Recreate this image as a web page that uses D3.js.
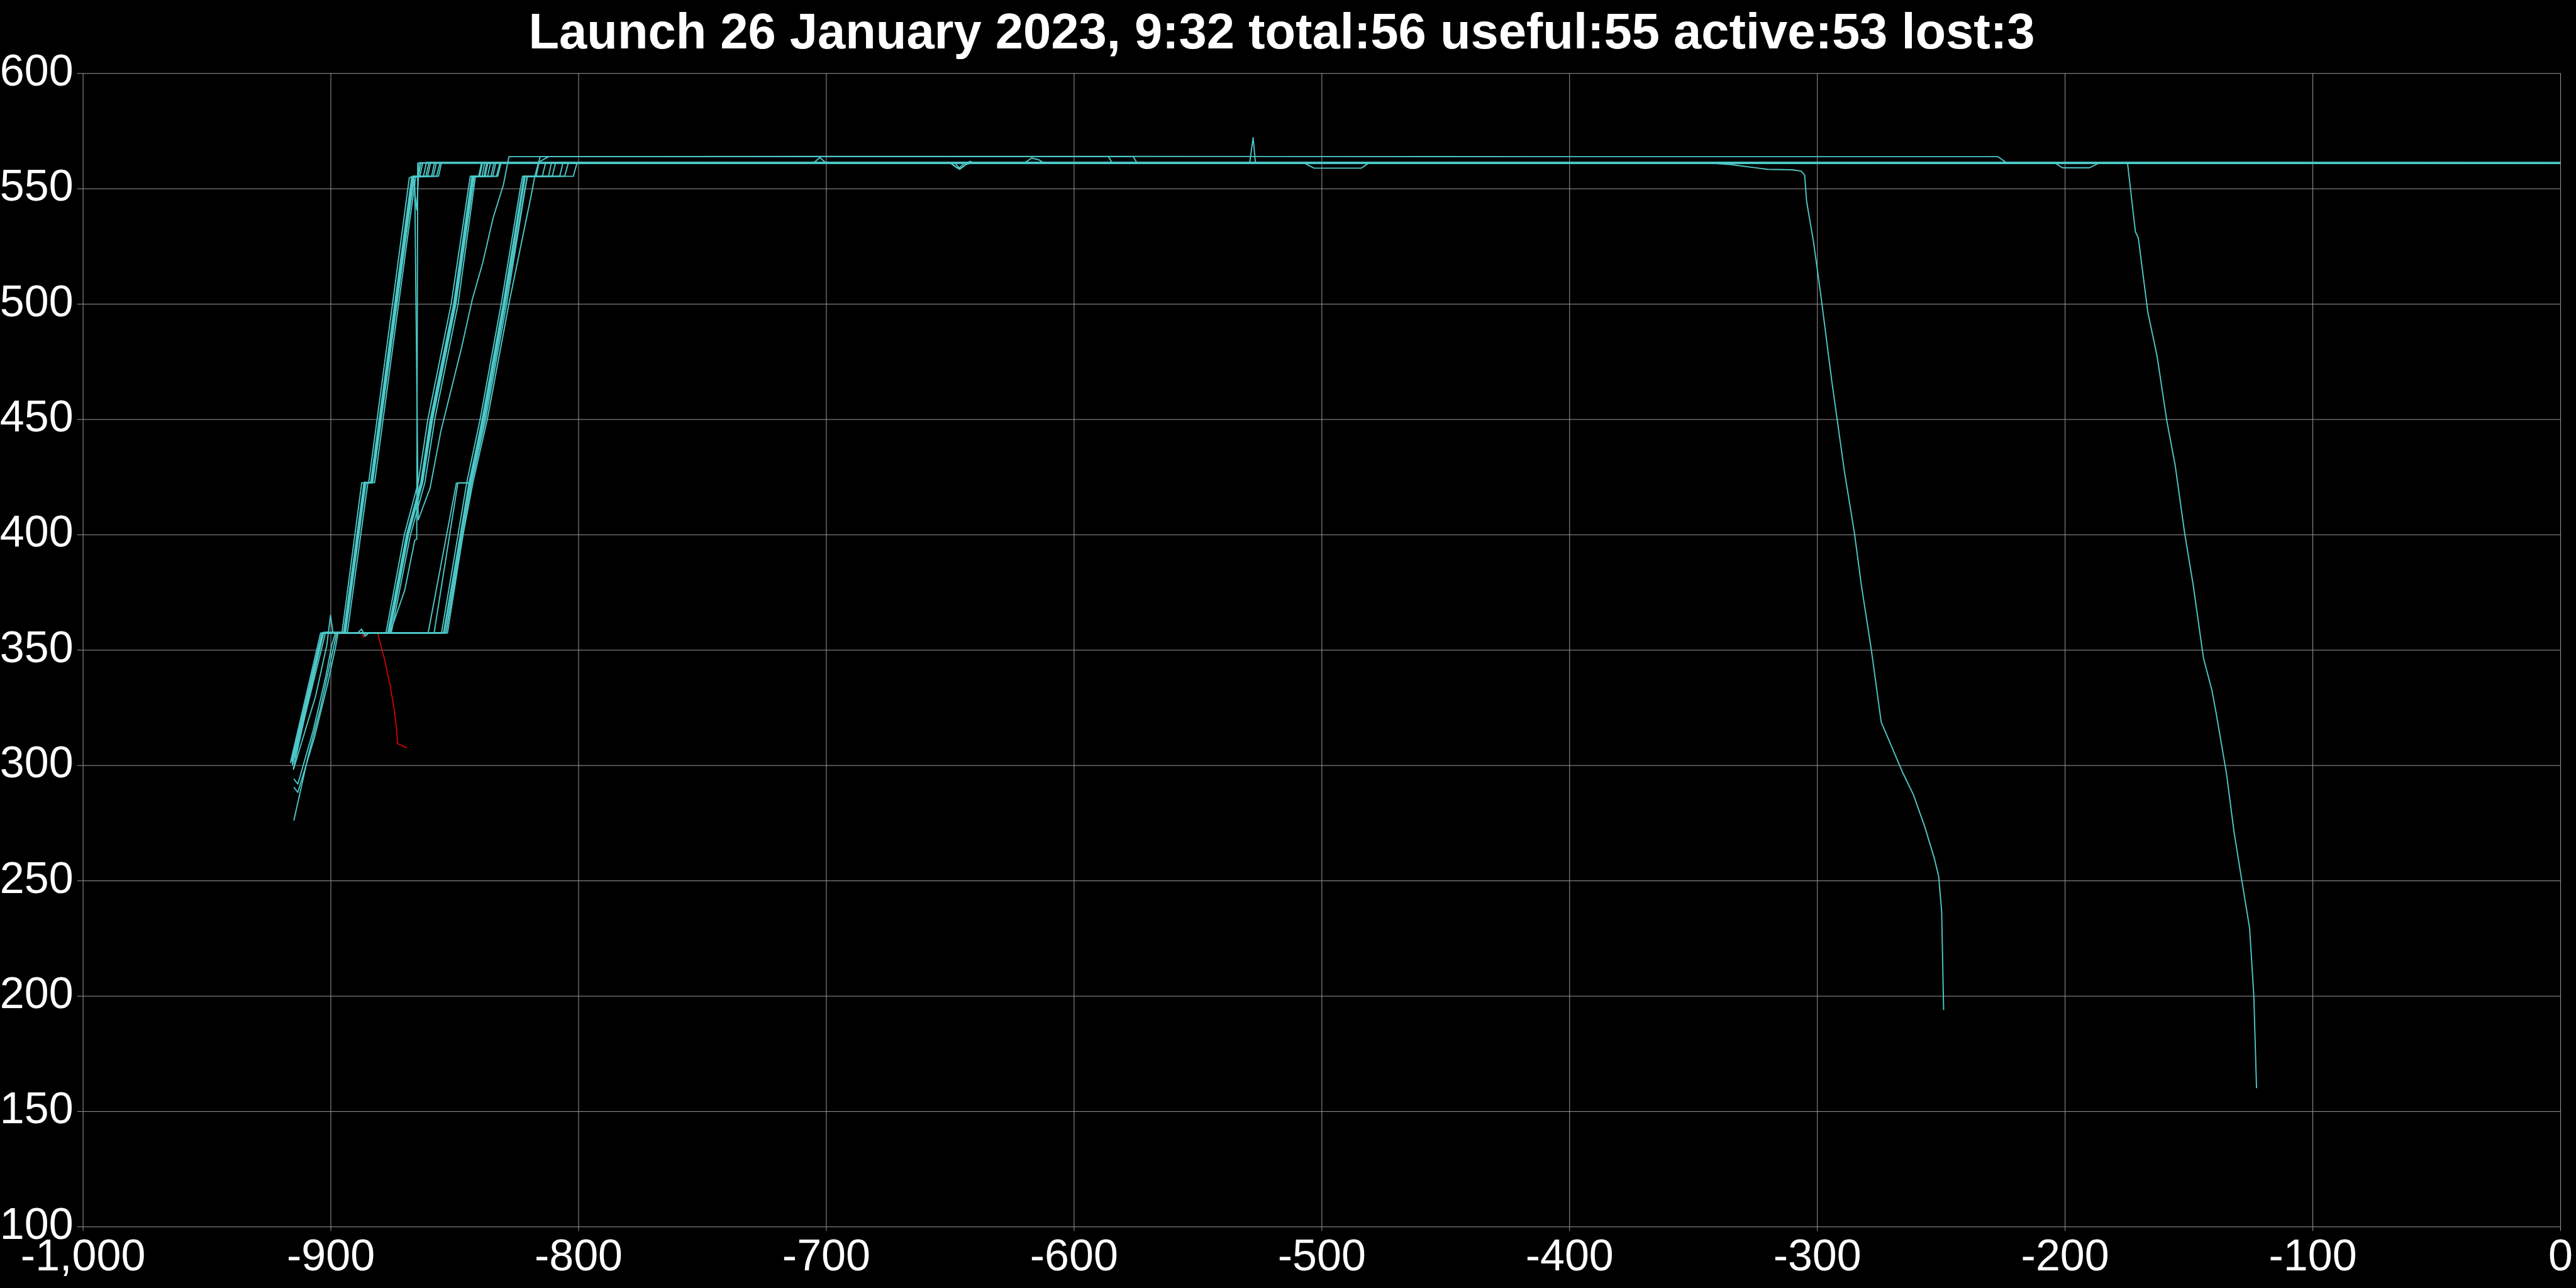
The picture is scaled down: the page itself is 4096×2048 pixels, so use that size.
<!DOCTYPE html>
<html><head><meta charset="utf-8">
<script src="https://cdn.jsdelivr.net/npm/d3@7"></script>
<style>html,body{margin:0;padding:0;background:#000;} svg{display:block;}</style>
</head><body>
<script>
const titleText = "Launch 26 January 2023, 9:32 total:56 useful:55 active:53 lost:3";
const xTicks = [-1000,-900,-800,-700,-600,-500,-400,-300,-200,-100,0];
const yTicks = [100,150,200,250,300,350,400,450,500,550,600];

// ---- active satellites: [day, altitude km] ----
const satA1 = [[-915.6,302],[-903.4,357.4],[-894.7,357.4],[-886.4,422.6],[-883.7,422.6],[-867.0,555.2],[-863.9,555.3],[-862.8,561.1],[-705,561.1],[-702.5,563.4],[-700,561.1],[-500,561],[-300,561.1],[-100,561],[0,561]];
const satA2 = [[-915.3,301],[-903.1,357.3],[-894.3,357.3],[-886.1,422.4],[-883.4,422.5],[-866.7,555.3],[-865.2,540.7],[-864.2,561.2],[-650,561.2],[-647.5,559.2],[-646,558.3],[-644,560.2],[-641,561.2],[-400,561.2],[-200,561.1],[0,561.1]];
const satA3 = [[-915.1,303],[-902.9,357.5],[-894.1,357.5],[-885.9,422.3],[-883.2,422.3],[-866.4,555.1],[-861.5,555.3],[-860.3,561],[-620,561],[-617,563.2],[-614,562.4],[-612,561],[-300,561],[0,560.9]];
const satA4 = [[-915.4,300.5],[-903.2,357.2],[-894.5,357.2],[-886.3,422.7],[-883.5,422.4],[-866.9,554.9],[-859.2,555.3],[-858,561.2],[-529,561.2],[-527.6,572],[-526.7,561.2],[-200,561.2],[0,561.1]];
const satA5 = [[-915.0,302.5],[-902.7,357.6],[-893.9,357.6],[-885.7,422.5],[-883.0,422.6],[-866.2,555.4],[-857.2,555.3],[-855.8,561],[-507,561],[-503,558.8],[-484,558.8],[-481,561],[0,561]];
const satA6 = [[-915.5,301.8],[-903.0,357.3],[-894.4,357.4],[-886.0,422.5],[-883.3,422.5],[-866.6,555.0],[-862.5,555.3],[-861.3,561.3],[-400,561.3],[0,561.2]];
const satA7 = [[-916.2,301],[-904.0,357.3],[-895.4,357.3],[-887.4,422.4],[-884.6,422.5],[-868.2,554.6],[-866.8,555.3],[-864.5,555.3],[-863.5,561.0],[-300,561.0],[0,561.0]];
const satA8 = [[-914.4,303.5],[-902.0,357.5],[-893.2,357.5],[-884.9,422.6],[-882.2,422.5],[-865.6,555.3],[-858.5,555.3],[-857.3,561.1],[-100,561.1],[0,561.1]];
const satA9 = [[-915.2,302.2],[-903.1,357.4],[-894.6,357.4],[-886.5,422.3],[-883.8,422.4],[-867.2,555.1],[-860.8,555.3],[-859.6,561.2],[-650,561.2],[-646.5,558.6],[-644,561.2],[0,561.2]];
const satA10 = [[-915.4,301],[-903.2,357.3],[-894.2,357.3],[-885.8,422.6],[-883.1,422.5],[-866.3,555.2],[-856.4,555.3],[-855.2,561.1],[0,561.1]];

const satB1 = [[-915.4,300],[-903.2,357.3],[-889,357.3],[-887.5,359],[-886,356],[-884.5,357.3],[-876.6,357.3],[-869.0,400],[-863.3,422.6],[-859.4,450],[-850.0,500],[-842.6,555.3],[-839.8,555.3],[-838.7,561.1],[-345,561.1],[-335,560.4],[-320,558.3],[-310,558.1],[-306.5,557.6],[-305,555.8],[-304.2,544.4],[-301.4,526.7],[-298.5,504],[-294,466.2],[-288.9,427],[-284.9,400.6],[-282.1,378],[-278.1,350.2],[-274.1,318.7],[-270.1,308.6],[-265.6,297.2],[-261.1,287.2],[-256.5,273.3],[-252.6,259.4],[-250.9,251.8],[-249.7,236.7],[-248.9,193.9]];
const satB2 = [[-915.2,301.5],[-903,357.4],[-876.3,357.4],[-868.7,400],[-863,422.8],[-859.1,450],[-849.7,500],[-842.3,555.2],[-837.6,555.3],[-836.5,561],[-648,561],[-646,558.6],[-644.5,559.5],[-642,561.8],[-640,561],[0,561]];
const satB3 = [[-915.5,302.5],[-903.3,357.3],[-876.9,357.3],[-869.3,400],[-863.6,422.4],[-859.7,450],[-850.3,500],[-842.9,555.4],[-835.2,555.3],[-834,561.2],[-200,561.2],[0,561.1]];
const satB4 = [[-914.8,294.1],[-913.2,291.8],[-907,315],[-902,338],[-899.5,352],[-898,357.3],[-876.1,357.3],[-868.5,400],[-862.8,422.7],[-858.9,450],[-849.5,500],[-842.2,555.1],[-833,555.3],[-831.6,561.1],[-204,561.1],[-201,559],[-190,559],[-186,561.1],[0,561.1]];
const satB5 = [[-914.8,290.5],[-913.2,288.2],[-906.5,312],[-901,336],[-898,351],[-897,357.3],[-876.7,357.3],[-869.1,400],[-863.4,422.5],[-859.5,450],[-850.1,500],[-842.7,555.2],[-838,555.3],[-837,561],[-176,561],[-174.7,561.3],[-171.5,531.3],[-170.3,528.5],[-166.5,496.5],[-163.5,481.2],[-162.7,477],[-158.8,449.2],[-155.4,429.7],[-151.6,400.5],[-148.2,378.3],[-144,346.3],[-140.6,332.4],[-138.9,322.6],[-134.7,296.2],[-131.7,271.2],[-128.8,251.7],[-125.4,229.4],[-123.7,200.2],[-122.6,160]];
const satB6 = [[-915.3,301],[-903.1,357.2],[-876.4,357.2],[-868.8,400],[-863.1,422.6],[-859.2,450],[-849.8,500],[-842.4,555.3],[-840.2,555.3],[-839,561.2],[-500,561.2],[0,561.2]];
const satB7 = [[-915.3,301.8],[-903.1,357.3],[-875.5,357.3],[-867.7,400],[-861.9,422.6],[-857.9,450],[-848.5,500],[-841.5,555.2],[-836.6,555.3],[-835.4,561.1],[0,561.1]];
const satB8 = [[-915.1,302.3],[-903,357.4],[-877.6,357.4],[-870.2,400],[-864.6,422.5],[-860.7,450],[-851.3,500],[-843.6,555.3],[-832.5,555.3],[-831.2,561],[0,561]];
const satB9 = [[-915.5,300.8],[-903.2,357.3],[-876.5,357.3],[-868.9,400],[-863.2,422.6],[-859.3,450],[-849.9,500],[-842.5,555.2],[-838.8,555.3],[-837.8,561.2],[0,561.2]];
const satB10 = [[-915.2,301.2],[-903.1,357.3],[-876.2,357.3],[-868.6,400],[-862.9,422.6],[-858.8,450],[-849.4,500],[-842.0,555.3],[-834.5,555.3],[-833.3,561.1],[0,561.1]];

const satC1 = [[-915.4,301.2],[-903.2,357.3],[-854.4,357.3],[-847.6,400],[-844.1,422.6],[-838.6,450],[-830.1,500],[-822.5,550],[-821.7,555.3],[-814.5,555.3],[-813.2,561.1],[-400,561.1],[0,561]];
const satC2 = [[-915.1,302],[-903,357.4],[-854.1,357.4],[-847.3,400],[-843.8,422.5],[-838.3,450],[-829.8,500],[-822.2,550],[-821.4,555.2],[-810.5,555.3],[-809.2,561],[-300,561],[0,561]];
const satC3 = [[-914.8,276],[-908.9,304.5],[-904,325],[-900,345],[-897.5,357.3],[-860.6,357.3],[-849.2,422.3],[-843.9,422.4],[-838.8,450],[-830.3,500],[-822.7,550],[-821.9,555.3],[-805.5,555.3],[-804,561.1],[0,561.1]];
const satC4 = [[-915,298],[-906,330],[-901.5,352],[-900,365],[-899,357.3],[-858.2,357.3],[-848.6,422.4],[-843.7,422.4],[-838.5,450],[-830,500],[-822.4,550],[-821.6,555.2],[-802,555.3],[-800.5,561],[0,561]];
const satC5 = [[-915.2,300.8],[-903,357.3],[-852.8,357.3],[-846.5,400],[-842.5,422.6],[-836.7,450],[-828,500],[-819,547],[-817.6,555],[-815.4,563.8],[-700,563.9],[-586,563.8],[-584.5,561.1],[0,561]];
const satC6 = [[-915.5,301.5],[-903.3,357.3],[-853.5,357.3],[-847,400],[-843.4,422.6],[-837.9,450],[-829.5,500],[-821.5,550],[-820.5,555.1],[-817,555.3],[-815.8,561.5],[-812,563.8],[-576,563.8],[-574.5,561.1],[0,561]];
const satC7 = [[-915.3,301.4],[-903.2,357.3],[-855.2,357.3],[-848.5,400],[-845,422.6],[-839.6,450],[-831.1,500],[-823.4,550],[-822.5,555.3],[-812,555.3],[-810.8,561.2],[0,561.2]];
const satC8 = [[-915.2,302],[-903.1,357.4],[-853.4,357.4],[-846.5,400],[-843,422.5],[-837.4,450],[-828.9,500],[-821.4,550],[-820.6,555.2],[-807.5,555.3],[-806.2,561],[0,561]];

const satL1 = [[-915.3,301.5],[-903.1,357.4],[-894.4,357.4],[-886.2,422.3],[-883.4,422.3],[-866.8,555.2],[-866.0,552],[-864.6,406.3],[-859.8,420.2],[-855.5,444.6],[-851.3,462.8],[-847.1,481],[-842.8,501.8],[-838.6,517.6],[-834.4,537.1],[-830.2,551.7],[-828,563.8],[-600,563.9],[-400,563.8],[-227,563.8],[-223.6,561.2],[0,561]];
const satL2 = [[-915,298.5],[-903,357.2],[-876,357.3],[-870,376],[-866,397.5],[-865.2,398],[-864.8,561],[-474,561.2],[-472,561],[0,561]];

// ---- lost satellite ----
const satLost1 = [[-915.4,301.5],[-903.1,357.3],[-887.5,357.3],[-886.5,355.5],[-885.8,357.3],[-881,357.3],[-878,345],[-875.9,334.3],[-874.2,323.4],[-873.3,315],[-872.9,309.3],[-869.1,307.5]];

const activeSeries = [satA1,satA2,satA3,satA4,satA5,satA6,satA7,satA8,satA9,satA10,
  satB1,satB2,satB3,satB4,satB5,satB6,satB7,satB8,satB9,satB10,
  satC1,satC2,satC3,satC4,satC5,satC6,satC7,satC8,satL1,satL2];
const lostSeries = [satLost1];

const W = 4096, H = 2048;
const mLeft = 131.6, mRight = 4071, mTop = 116.3, mBottom = 1950.3;
const x = d3.scaleLinear().domain([-1000,0]).range([mLeft,mRight]);
const y = d3.scaleLinear().domain([100,600]).range([mBottom,mTop]);
const fmt = d3.formatLocale({decimal:".",thousands:",",grouping:[3],currency:["$",""],minus:"-"}).format(",");

const svg = d3.select("body").append("svg").attr("width",W).attr("height",H)
  .style("background","#000").style("font-family","'Liberation Sans', Arial, sans-serif");
svg.append("rect").attr("width",W).attr("height",H).attr("fill","#000");

const gridColor = "#9a9a9a";
const gy = svg.append("g").attr("transform",`translate(${mLeft},0)`)
  .call(d3.axisLeft(y).tickValues(yTicks).tickSizeInner(-(mRight-mLeft)).tickSizeOuter(0).tickFormat(""));
const gx = svg.append("g").attr("transform",`translate(0,${mBottom})`)
  .call(d3.axisBottom(x).tickValues(xTicks).tickSizeInner(-(mBottom-mTop)).tickSizeOuter(0).tickFormat(""));
[gy,gx].forEach(g=>{g.select(".domain").remove(); g.selectAll("line").attr("stroke",gridColor).attr("stroke-width",1);});

const ay = svg.append("g").attr("transform",`translate(${mLeft},0)`)
  .call(d3.axisLeft(y).tickValues(yTicks).tickSize(9).tickPadding(6).tickFormat(d3.format("d")));
const ax = svg.append("g").attr("transform",`translate(0,${mBottom})`)
  .call(d3.axisBottom(x).tickValues(xTicks).tickSize(7).tickPadding(13).tickFormat(fmt));
[ay,ax].forEach(g=>{
  g.select(".domain").remove();
  g.selectAll("line").attr("stroke",gridColor).attr("stroke-width",1);
  g.selectAll("text").attr("fill","#fff").style("font-size","70px").style("font-family","'Liberation Sans', Arial, sans-serif");
});
ay.selectAll("text").attr("dy","0.27em");

const line = d3.line().x(d=>x(d[0])).y(d=>y(d[1]));
const plot = svg.append("g");
plot.selectAll("path.lost").data(lostSeries).join("path").attr("class","lost")
  .attr("d",line).attr("fill","none").attr("stroke","#e00000").attr("stroke-width",1.7).attr("stroke-linejoin","round");
plot.selectAll("path.active").data(activeSeries).join("path").attr("class","active")
  .attr("d",line).attr("fill","none").attr("stroke","#4ec8c8").attr("stroke-width",1.9).attr("stroke-linejoin","round");

svg.append("text").attr("x",2038).attr("y",77).attr("text-anchor","middle")
  .attr("fill","#fff").style("font-size","79.5px").style("font-weight","bold")
  .style("font-family","'Liberation Sans', Arial, sans-serif").text(titleText);
</script>
</body></html>
